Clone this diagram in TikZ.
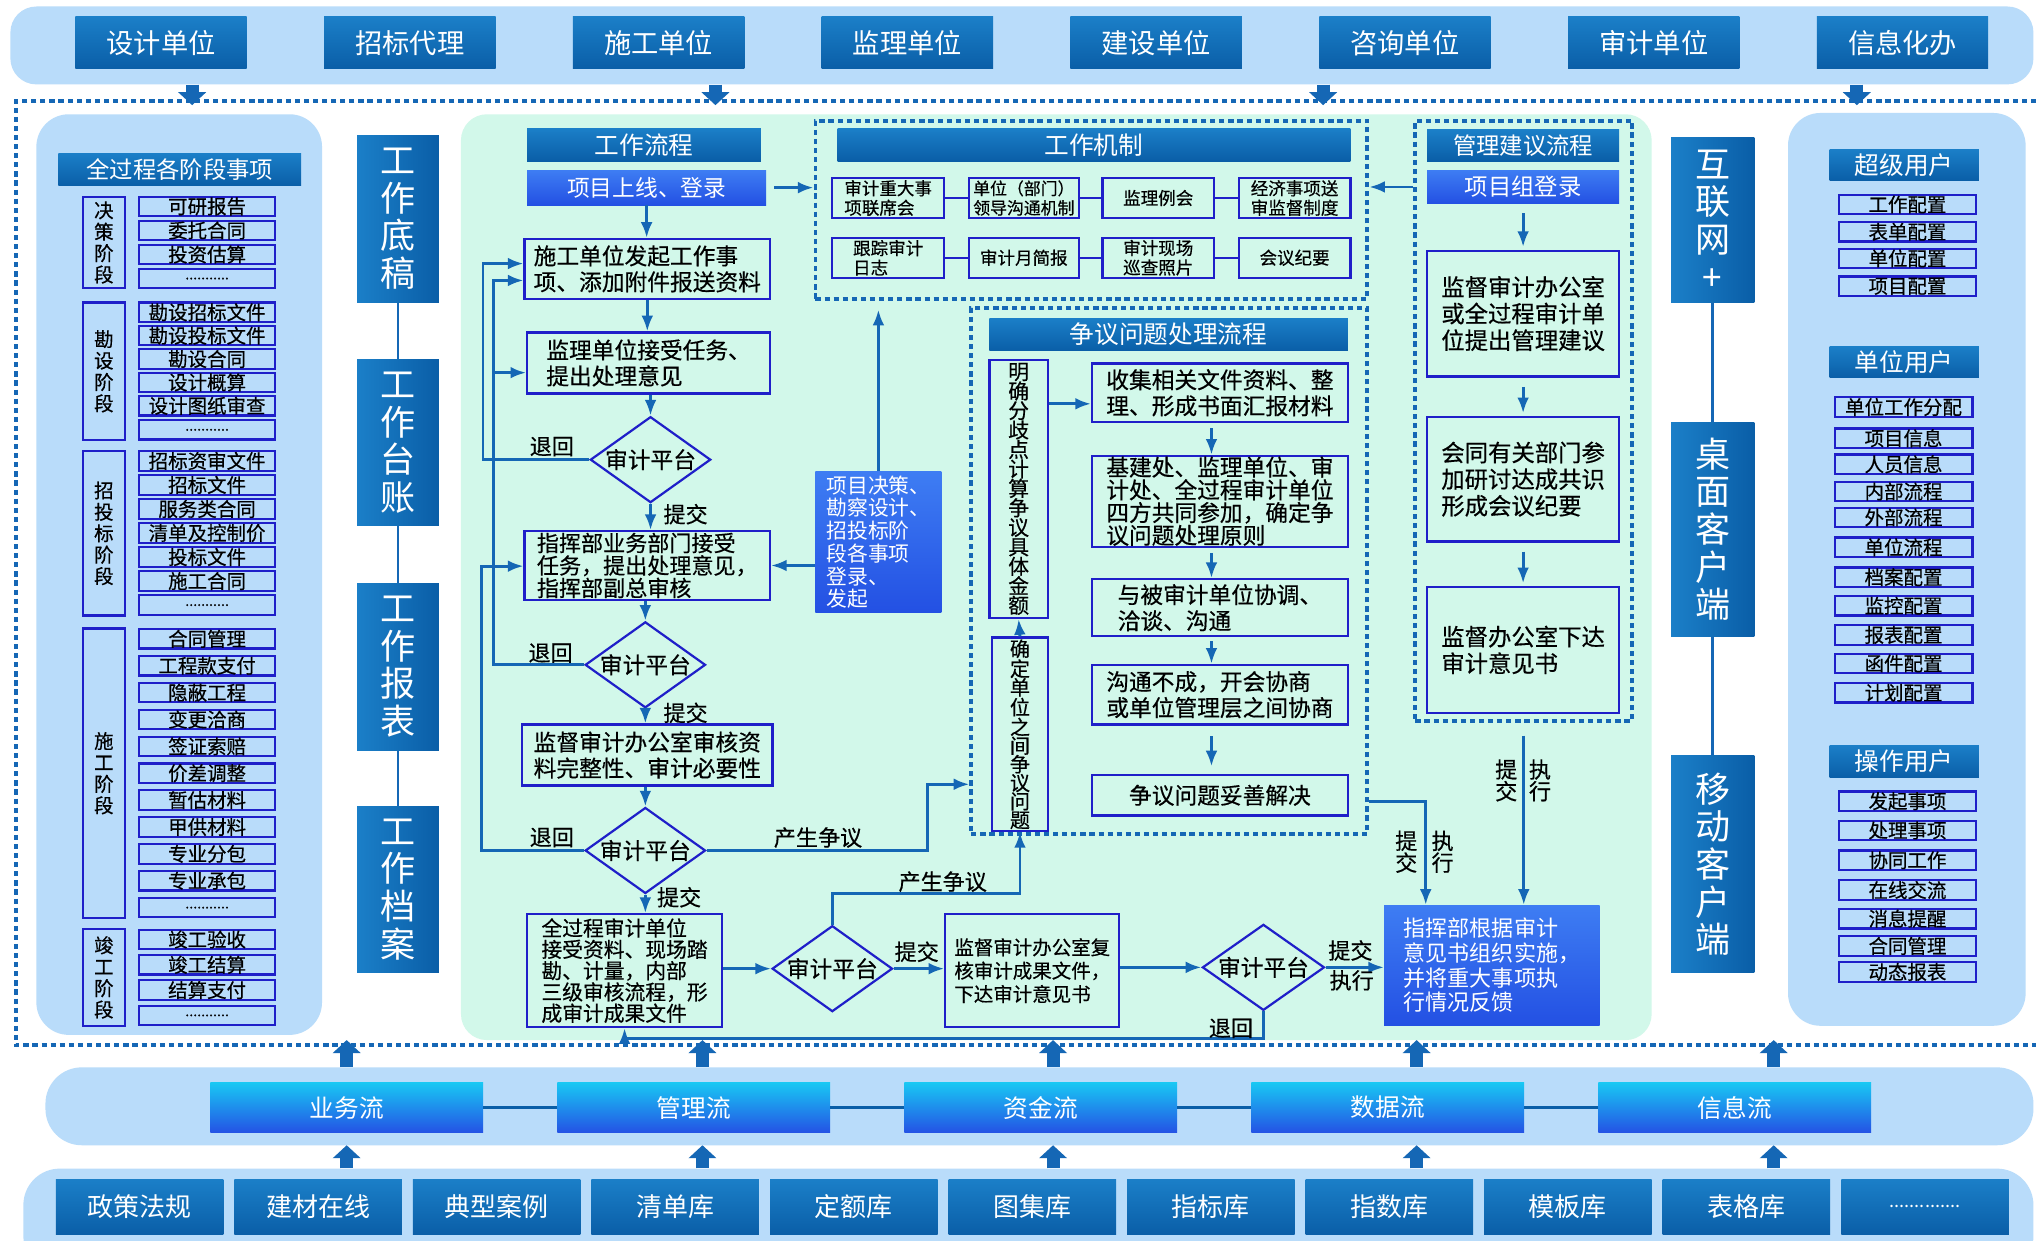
\documentclass[tikz,border=0pt]{standalone}
\usepackage{fontspec}
\setmainfont{Noto Sans CJK SC}
\newfontfamily\hei{Noto Sans CJK SC}[FakeBold=0.45]
\usetikzlibrary{arrows.meta,shapes.geometric,calc}

\definecolor{paleblue}{HTML}{B9DCFA}
\definecolor{mintbg}{HTML}{D2F8EA}
\definecolor{hdtop}{HTML}{1B7FC8}
\definecolor{hdbot}{HTML}{0A5EA7}
\definecolor{brtop}{HTML}{3E7DF3}
\definecolor{brbot}{HTML}{2350E3}
\definecolor{edgeblue}{HTML}{1F1FC9}
\definecolor{linkblue}{HTML}{1567B5}
\definecolor{flowtop}{HTML}{19C7F3}
\definecolor{flowbot}{HTML}{2453E5}

\newcommand\fsz[2]{\fontsize{#1}{#2}\selectfont}
% box from corner (x1,y1) to (x2,y2): name, x1, y1, x2, y2, style, text
\newcommand\placebox[7]{\node[#6, minimum width={#4-#2}, minimum height={#5-#3}] (#1) at ({(#2+#4)/2},{(#3+#5)/2}) {#7};}
\newcommand\dotrun{{\fsz{11}{11}...........}}
\newcommand\libdots{{\fsz{14}{14}..............}}
\newcommand\itm[3]{\node[itm, minimum width=105pt, minimum height=15pt] (#1) at (159.5,#2) {#3};}
\newcommand\uitm[4]{\node[itm, minimum width=106pt, minimum height=15pt] (#1) at (#2,#3) {#4};}

\begin{document}
\begin{tikzpicture}[x=1pt,y=-1pt,
  band/.style={fill=paleblue, rounded corners=20pt, inner sep=0pt},
  hdr/.style={top color=hdtop, bottom color=hdbot, text=white, inner sep=0pt, align=center},
  colbox/.style={left color=hdtop, right color=hdbot, text=white, inner sep=0pt, align=center, font=\fsz{27}{29}},
  bright/.style={top color=brtop, bottom color=brbot, text=white, inner sep=0pt},
  wbox/.style={draw=edgeblue, line width=1.7pt, inner sep=0pt, text=black, execute at begin node=\hei},
  stage/.style={wbox, align=center, font=\fsz{15}{16.5}},
  itm/.style={wbox, font=\fsz{15}{16}},
  flowbox/.style={top color=flowtop, bottom color=flowbot, text=white, inner sep=0pt, font=\fsz{19}{21}},
  libbox/.style={top color=hdtop, bottom color=hdbot, text=white, inner sep=0pt, font=\fsz{20}{22}},
  dia/.style={diamond, draw=edgeblue, line width=1.7pt, inner sep=0pt, shape aspect=1.4,
    minimum width=92pt, minimum height=66pt, font=\fsz{17.5}{19}, execute at begin node=\hei},
  flow/.style={draw=linkblue, line width=2.2pt, -{Latex[length=12pt,width=9pt]}},
  plain/.style={draw=linkblue, line width=2.2pt},
  dotbox/.style={draw=linkblue, line width=3pt, dash pattern=on 4pt off 3pt, inner sep=0pt},
  bigarrow/.style={draw=linkblue, line width=10pt, -{Triangle[length=10pt,width=21pt]}},
  lbl/.style={font=\fsz{17}{17}, text=black, inner sep=0pt, execute at begin node=\hei},
  vlbl/.style={font=\fsz{17}{15.5}, text=black, inner sep=0pt, align=center, execute at begin node=\hei},
  mech/.style={wbox, font=\fsz{13.5}{15}}
]
\useasboundingbox (0,0) rectangle (1568,955);
\clip (0,0) rectangle (1568,955);
\fill[white] (0,0) rectangle (1568,955);

% ---------- participating parties ----------
\placebox{topband}{8}{5}{1566}{65}{band}{}
\foreach \t [count=\i from 0] in {设计单位,招标代理,施工单位,监理单位,建设单位,咨询单位,审计单位,信息化办} {
  \pgfmathsetmacro\xa{58+191.6*\i}
  \pgfmathsetmacro\xb{\xa+132}
  \placebox{top\i}{\xa}{13}{\xb}{53}{hdr,font=\fsz{21}{22}}{\t}
}
\foreach \x in {148,551,1019,1430}
  \draw[bigarrow] (topband.south -| \x,0) -- (\x,81);

% ---------- outer frame ----------
\draw[dotbox] (1575,78) -- (12,78) -- (12,805) -- (1575,805);

% ---------- panels ----------
\placebox{lpanel}{28}{88}{248}{797}{band,rounded corners=25pt}{}
\placebox{midpanel}{355}{88}{1272}{801}{fill=mintbg,rounded corners=20pt,inner sep=0pt}{}
\placebox{rpanel}{1377}{87}{1560}{790}{band,rounded corners=25pt}{}

% ---------- stage items ----------
\placebox{lph}{45}{118}{232}{143}{hdr,font=\fsz{18}{20}}{全过程各阶段事项}
\placebox{s1}{64}{151.5}{96}{222}{stage}{决\\策\\阶\\段}
\itm{a1}{159}{可研报告}
\itm{a2}{177.5}{委托合同}
\itm{a3}{196}{投资估算}
\itm{a4}{214.5}{\dotrun}
\placebox{s2}{64}{233}{96}{339}{stage}{勘\\设\\阶\\段}
\itm{b1x}{240.5}{勘设招标文件}
\itm{b2x}{258.5}{勘设投标文件}
\itm{b3x}{276.5}{勘设合同}
\itm{b4x}{294.5}{设计概算}
\itm{b5x}{312.5}{设计图纸审查}
\itm{b6x}{331}{\dotrun}
\placebox{s3}{64}{347.5}{96}{474}{stage}{招\\投\\标\\阶\\段}
\itm{c1x}{355}{招标资审文件}
\itm{c2x}{373.5}{招标文件}
\itm{c3x}{392}{服务类合同}
\itm{c4x}{410.5}{清单及控制价}
\itm{c5x}{429}{投标文件}
\itm{c6x}{447.5}{施工合同}
\itm{c7x}{466}{\dotrun}
\placebox{s4}{64}{484}{96}{707}{stage}{施\\工\\阶\\段}
\itm{e1}{492}{合同管理}
\itm{e2}{512.7}{工程款支付}
\itm{e3}{533.4}{隐蔽工程}
\itm{e4}{554.1}{变更洽商}
\itm{e5}{574.8}{签证索赔}
\itm{e6}{595.5}{价差调整}
\itm{e7}{616.2}{暂估材料}
\itm{e8}{636.9}{甲供材料}
\itm{e9}{657.6}{专业分包}
\itm{e10}{678.3}{专业承包}
\itm{e11}{699}{\dotrun}
\placebox{s5}{64}{715.5}{96}{790}{stage}{竣\\工\\阶\\段}
\itm{g1}{723.5}{竣工验收}
\itm{g2}{743}{竣工结算}
\itm{g3}{762.5}{结算支付}
\itm{g4}{782}{\dotrun}

% ---------- work records column ----------
\placebox{wd1}{275}{104}{338}{233}{colbox}{工\\作\\底\\稿}
\placebox{wd2}{275}{277}{338}{405}{colbox}{工\\作\\台\\账}
\placebox{wd3}{275}{449}{338}{578}{colbox}{工\\作\\报\\表}
\placebox{wd4}{275}{621}{338}{749}{colbox}{工\\作\\档\\案}
\draw[plain] (wd1.south) -- (wd2.north);
\draw[plain] (wd2.south) -- (wd3.north);
\draw[plain] (wd3.south) -- (wd4.north);

% ---------- main workflow ----------
\placebox{wfh}{406}{99}{586}{124}{hdr,font=\fsz{19}{20}}{工作流程}
\placebox{proj}{406}{131}{590}{158}{bright,font=\fsz{17.5}{19}}{项目上线、登录}
\placebox{f1}{404}{184}{593}{230}{wbox,align=left,font=\fsz{17.5}{20}}{施工单位发起工作事\\项、添加附件报送资料}
\placebox{f2}{406}{256}{593}{303}{wbox,align=left,font=\fsz{17.5}{20}}{监理单位接受任务、\\提出处理意见}
\node[dia] (d1) at (501,354) {审计平台};
\placebox{f3}{404}{409}{593}{462}{wbox,align=left,font=\fsz{17}{17.3}}{指挥部业务部门接受\\任务，提出处理意见，\\指挥部副总审核}
\node[dia] (d2) at (497,512) {审计平台};
\placebox{f4}{402}{558}{595}{605}{wbox,align=left,font=\fsz{17.5}{20}}{监督审计办公室审核资\\料完整性、审计必要性}
\node[dia] (d3) at (497,655) {审计平台};
\placebox{f5}{406}{704}{556}{791}{wbox,align=left,font=\fsz{16}{16.4}}{全过程审计单位\\接受资料、现场踏\\勘、计量，内部\\三级审核流程，形\\成审计成果文件}
\node[dia, minimum width=90pt, minimum height=65pt] (d4) at (641,746) {审计平台};
\placebox{f6}{728}{704}{862}{791}{wbox,align=left,font=\fsz{15}{18}}{监督审计办公室复\\核审计成果文件，\\下达审计意见书}
\node[dia, minimum width=94pt] (d5) at (973,745) {审计平台};
\placebox{f7}{1066}{697}{1232}{790}{bright,align=left,font=\fsz{17}{19}}{指挥部根据审计\\意见书组织实施，\\并将重大事项执\\行情况反馈}
\placebox{dec}{628}{363}{725}{472}{bright,align=left,font=\fsz{16}{17.5}}{项目决策、\\勘察设计、\\招投标阶\\段各事项\\登录、\\发起}

\draw[flow] (proj.south) -- (proj.south |- f1.north);
\draw[flow] (f1.south) -- (f1.south |- f2.north);
\draw[flow] (d1.north |- f2.south) -- (d1.north);
\draw[flow] (d1.south) -- (d1.south |- f3.north);
\draw[flow] (d2.north |- f3.south) -- (d2.north);
\draw[flow] (d2.south) -- (d2.south |- f4.north);
\draw[flow] (d3.north |- f4.south) -- (d3.north);
\draw[flow] (d3.south) -- (d3.south |- f5.north);
\draw[flow] (f5.east |- d4.west) -- (d4.west);
\draw[flow] (d4.east) -- (f6.west |- d4.east);
\draw[flow] (f6.east |- d5.west) -- (d5.west);
\draw[flow] (d5.east) -- (f7.west |- d5.east);

% return paths
\draw[flow] (d1.west) -| (372,203) -- (f1.west |- 0,203);
\draw[flow] (d2.west) -| (380,216) -- (f1.west |- 0,216);
\draw[flow] (380,287) -- (f2.west |- 0,287);
\draw[flow] (d3.west) -| (371,436) -- (f3.west |- 0,436);
\draw[flow] (d5.south) -- (d5.south |- 0,800) -| (f5.south);

\node[lbl] (t1) at (425,344) {退回};
\node[lbl] (t2) at (424,503) {退回};
\node[lbl] (t3) at (425,645) {退回};
\node[lbl] (t4) at (948,792) {退回};
\node[lbl] (p1) at (528,396) {提交};
\node[lbl] (p2) at (528,549) {提交};
\node[lbl] (p3) at (523,691) {提交};
\node[lbl] (p4) at (706,733) {提交};
\node[lbl] (p5) at (1040,732) {提交};
\node[lbl] (x5) at (1041,755) {执行};
\node[lbl] (z1) at (630,645) {产生争议};
\node[lbl] (z2) at (726,679) {产生争议};

% ---------- working mechanism ----------
\placebox{mechbox}{628}{93}{1053}{230}{dotbox}{}
\placebox{mechh}{645}{99}{1040}{124}{hdr,font=\fsz{19}{20}}{工作机制}
\placebox{k1}{641}{137}{727}{168}{mech,align=left}{审计重大事\\项联席会}
\placebox{k2}{746}{137}{831}{168}{mech,align=left,font=\fsz{13}{15}}{单位（部门）\\领导沟通机制}
\placebox{k3}{849}{137}{935}{168}{mech}{监理例会}
\placebox{k4}{954}{137}{1040}{168}{mech,align=left}{经济事项送\\审监督制度}
\placebox{k5}{641}{183}{727}{214}{mech,align=left}{跟踪审计\\日志}
\placebox{k6}{746}{183}{831}{214}{mech}{审计月简报}
\placebox{k7}{849}{183}{935}{214}{mech,align=center}{审计现场\\巡查照片}
\placebox{k8}{954}{183}{1040}{214}{mech}{会议纪要}
\foreach \a/\b in {k1/k2,k2/k3,k3/k4,k5/k6,k6/k7,k7/k8}
  \draw[draw=edgeblue, line width=1.7pt] (\a.east) -- (\b.west);

\draw[flow] ($(proj.east)+(6,0)$) -- (mechbox.west |- proj.east);
\draw[flow] (dec.north) -- ($(dec.north |- mechbox.south)+(0,7)$);
\draw[flow] (dec.west |- f3.east) -- (f3.east);

% ---------- dispute handling ----------
\placebox{dispbox}{748}{237}{1053}{642}{dotbox}{}
\placebox{disph}{762}{245}{1038}{270}{hdr,font=\fsz{19}{20}}{争议问题处理流程}
\placebox{mq}{762}{277}{807}{476}{wbox,align=center,font=\fsz{16}{15}}{明\\确\\分\\歧\\点\\计\\算\\争\\议\\具\\体\\金\\额}
\placebox{qd}{764}{491}{807}{640}{wbox,align=center,font=\fsz{15.5}{14.3}}{确\\定\\单\\位\\之\\间\\争\\议\\问\\题}
\placebox{c1}{841}{280}{1038}{325}{wbox,align=left,font=\fsz{17.5}{20}}{收集相关文件资料、整\\理、形成书面汇报材料}
\placebox{c2}{841}{351}{1038}{421}{wbox,align=left,font=\fsz{17.5}{17.5}}{基建处、监理单位、审\\计处、全过程审计单位\\四方共同参加，确定争\\议问题处理原则}
\placebox{c3}{841}{446}{1038}{490}{wbox,align=left,font=\fsz{17.5}{20}}{与被审计单位协调、\\洽谈、沟通}
\placebox{c4}{841}{512}{1038}{558}{wbox,align=left,font=\fsz{17.5}{20}}{沟通不成，开会协商\\或单位管理层之间协商}
\placebox{c5}{841}{597}{1038}{628}{wbox,font=\fsz{17.5}{20}}{争议问题妥善解决}

\draw[flow] (qd.north) -- (mq.south);
\draw[flow] (mq.east |- 0,311) -- (c1.west |- 0,311);
\draw[flow] ($(c1.south -| 933,0)+(0,4)$) -- (c2.north -| 933,0);
\draw[flow] ($(c2.south -| 933,0)+(0,4)$) -- (c3.north -| 933,0);
\draw[flow] ($(c3.south -| 933,0)+(0,3)$) -- (c4.north -| 933,0);
\draw[flow] ($(c4.south -| 933,0)+(0,8)$) -- ($(c5.north -| 933,0)+(0,-6)$);

\draw[flow] (d3.east) -| (714,604) -- (dispbox.west |- 0,604);
\draw[flow] (d4.north) -- (d4.north |- 0,688) -| (qd.south);
\draw[flow] (dispbox.east |- 0,617) -| (f7.north -| 1098,0);
\node[vlbl] (tj1) at (1083,656) {提\\交};
\node[vlbl] (zx1) at (1111,656) {执\\行};

% ---------- management suggestions ----------
\placebox{sugbox}{1090}{93}{1257}{555}{dotbox}{}
\placebox{sugh}{1099}{100}{1247}{124}{hdr,font=\fsz{18}{20}}{管理建议流程}
\placebox{login}{1099}{131}{1247}{157}{bright,font=\fsz{18}{20}}{项目组登录}
\placebox{m1}{1099}{193}{1247}{290}{wbox,align=left,font=\fsz{18}{20.5}}{监督审计办公室\\或全过程审计单\\位提出管理建议}
\placebox{m2}{1099}{321}{1247}{417}{wbox,align=left,font=\fsz{18}{20.5}}{会同有关部门参\\加研讨达成共识\\形成会议纪要}
\placebox{m3}{1099}{452}{1247}{549}{wbox,align=left,font=\fsz{18}{20.5}}{监督办公室下达\\审计意见书}
\draw[flow] ($(login.south)+(0,7)$) -- ($(m1.north)+(0,-2)$);
\draw[flow] ($(m1.south)+(0,7)$) -- ($(m2.north)+(0,-2)$);
\draw[flow] ($(m2.south)+(0,7)$) -- ($(m3.north)+(0,-2)$);
\draw[flow] (sugbox.west |- login.west) -- (mechbox.east |- login.west);
\draw[flow] ($(sugbox.south)+(0,10)$) -- (f7.north -| sugbox.south);
\node[vlbl] (tj2) at (1160,601) {提\\交};
\node[vlbl] (zx2) at (1186,601) {执\\行};

% ---------- client channels ----------
\placebox{rc1}{1287}{106}{1351}{233}{colbox}{互\\联\\网\\+}
\placebox{rc2}{1287}{325}{1351}{490}{colbox}{桌\\面\\客\\户\\端}
\placebox{rc3}{1287}{582}{1351}{749}{colbox}{移\\动\\客\\户\\端}
\draw[plain] (rc1.south) -- (rc2.north);
\draw[plain] (rc2.south) -- (rc3.north);

% ---------- user roles ----------
\placebox{uh1}{1409}{115}{1524}{139}{hdr,font=\fsz{19}{20}}{超级用户}
\uitm{u1}{1469}{157.5}{工作配置}
\uitm{u2}{1469}{178.5}{表单配置}
\uitm{u3}{1469}{199}{单位配置}
\uitm{u4}{1469}{220.5}{项目配置}
\placebox{uh2}{1409}{267}{1524}{291}{hdr,font=\fsz{19}{20}}{单位用户}
\uitm{v1}{1466}{313.5}{单位工作分配}
\uitm{v2}{1466}{337.5}{项目信息}
\uitm{v3}{1466}{357.5}{人员信息}
\uitm{v4}{1466}{378.5}{内部流程}
\uitm{v5}{1466}{398.5}{外部流程}
\uitm{v6}{1466}{421.5}{单位流程}
\uitm{v7}{1466}{444.5}{档案配置}
\uitm{v8}{1466}{466.5}{监控配置}
\uitm{v9}{1466}{489}{报表配置}
\uitm{v10}{1466}{511}{函件配置}
\uitm{v11}{1466}{533.5}{计划配置}
\placebox{uh3}{1409}{574}{1524}{599}{hdr,font=\fsz{19}{20}}{操作用户}
\uitm{w1}{1469}{617}{发起事项}
\uitm{w2}{1469}{639.5}{处理事项}
\uitm{w3}{1469}{662.5}{协同工作}
\uitm{w4}{1469}{685.5}{在线交流}
\uitm{w5}{1469}{707.5}{消息提醒}
\uitm{w6}{1469}{728.5}{合同管理}
\uitm{w7}{1469}{748.5}{动态报表}

% ---------- five flows ----------
\placebox{flowband}{35}{822}{1566}{882}{band,rounded corners=28pt}{}
\foreach \t [count=\i from 0] in {业务流,管理流,资金流,数据流,信息流} {
  \pgfmathsetmacro\xa{162+267.25*\i}
  \pgfmathsetmacro\xb{\xa+210}
  \placebox{fl\i}{\xa}{834}{\xb}{872}{flowbox}{\t}
}
\foreach \a/\b in {fl0/fl1,fl1/fl2,fl2/fl3,fl3/fl4}
  \draw[draw=hdbot, line width=2pt] (\a.east) -- (\b.west);
\foreach \x in {267,541,811,1091,1366}
  \draw[bigarrow] (flowband.north -| \x,0) -- (\x,801);

% ---------- knowledge libraries ----------
\placebox{libband}{18}{900}{1566}{980}{band,rounded corners=28pt}{}
\foreach \t [count=\i from 0] in {政策法规,建材在线,典型案例,清单库,定额库,图集库,指标库,指数库,模板库,表格库,\libdots} {
  \pgfmathsetmacro\xa{43+137.5*\i}
  \pgfmathsetmacro\xb{\xa+129}
  \placebox{lib\i}{\xa}{908}{\xb}{951}{libbox}{\t}
}
\foreach \x in {267,541,811,1091,1366}
  \draw[bigarrow] (libband.north -| \x,0) -- (\x,882);
\end{tikzpicture}
\end{document}
